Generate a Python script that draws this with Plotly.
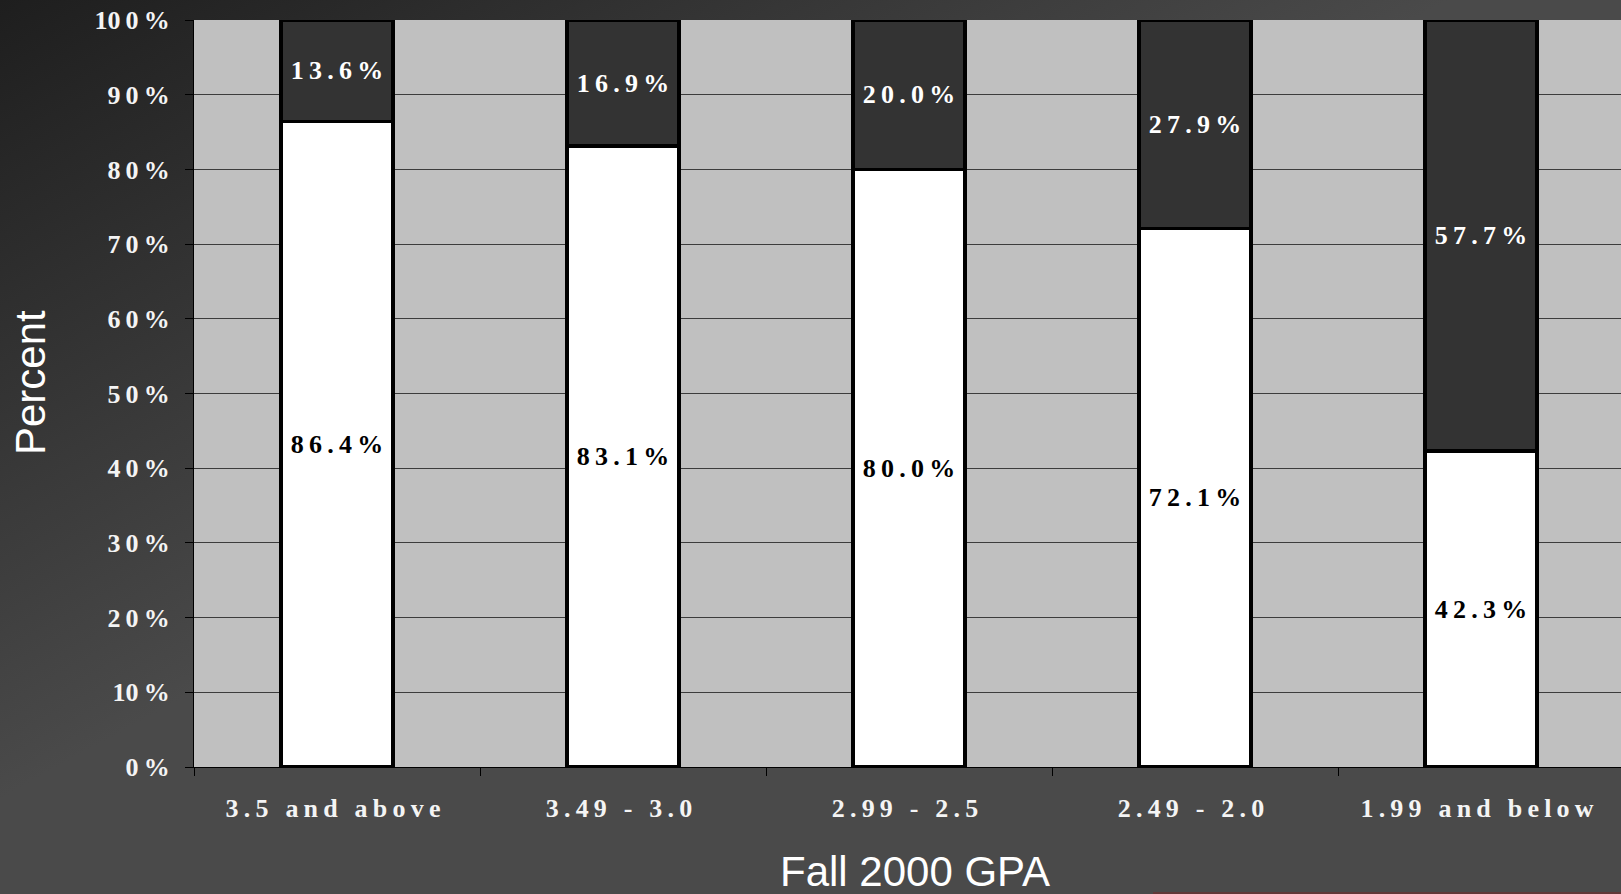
import base64
import plotly.graph_objects as go

# ---- data ----
categories = ["3.5 and above", "3.49 - 3.0", "2.99 - 2.5", "2.49 - 2.0", "1.99 and below"]
lower_values = [86.4, 83.1, 80.0, 72.1, 42.3]   # white segments
upper_values = [13.6, 16.9, 20.0, 27.9, 57.7]   # dark segments
y_tick_vals = [0, 10, 20, 30, 40, 50, 60, 70, 80, 90, 100]
y_tick_text = ["0%", "10%", "20%", "30%", "40%", "50%", "60%", "70%", "80%", "90%", "100%"]
x_title = "Fall 2000 GPA"
y_title = "Percent"

TS = "\u2009"


def spaced(s):
    return TS.join(list(s))


W, H = 1621, 894
L, R, T, B = 194, 0, 20, 127
PW = W - L - R
PH = H - T - B

serif = dict(family="Liberation Serif, Times New Roman, serif", size=26, weight="bold")

fig = go.Figure()
fig.add_trace(go.Bar(
    x=categories, y=lower_values, width=0.39,
    marker=dict(color="#ffffff", line=dict(color="#000000", width=3.5)),
    text=[spaced(f"{v:.1f}%") for v in lower_values],
    textposition="inside", insidetextanchor="middle", textangle=0,
    textfont=dict(serif, color="#000000"),
    showlegend=False, hoverinfo="skip",
))
fig.add_trace(go.Bar(
    x=categories, y=upper_values, width=0.39,
    marker=dict(color="#333333", line=dict(color="#000000", width=3.5)),
    text=[spaced(f"{v:.1f}%") for v in upper_values],
    textposition="inside", insidetextanchor="middle", textangle=0,
    textfont=dict(serif, color="#ffffff"),
    showlegend=False, hoverinfo="skip",
))

# gradient background
svg = (
    f'<svg xmlns="http://www.w3.org/2000/svg" width="{W}" height="{H}" viewBox="0 0 {W} {H}" preserveAspectRatio="none">'
    '<defs><linearGradient id="g" gradientUnits="userSpaceOnUse" x1="0" y1="0" x2="338" y2="613">'
    '<stop offset="0" stop-color="#1e1e1e"/><stop offset="1" stop-color="#4a4a4a"/>'
    '</linearGradient></defs>'
    f'<rect width="{W}" height="{H}" fill="url(#g)"/></svg>'
)
uri = "data:image/svg+xml;base64," + base64.b64encode(svg.encode()).decode()

fig.update_layout(
    width=W, height=H,
    margin=dict(l=L, r=R, t=T, b=B, pad=0),
    barmode="stack",
    paper_bgcolor="#4a4a4a",
    plot_bgcolor="#c0c0c0",
    images=[dict(source=uri, xref="paper", yref="paper",
                 x=-L / PW, y=1 + T / PH, sizex=W / PW, sizey=H / PH,
                 xanchor="left", yanchor="top", sizing="stretch", layer="below")],
    xaxis=dict(
        type="category", range=[-0.5, -0.5 + PW / 286.0],
        tickvals=categories, ticktext=[spaced(c) for c in categories],
        tickson="boundaries", ticks="outside", ticklen=8, tickcolor="#000000",
        showgrid=False, showline=True, linecolor="#000000", linewidth=1,
        tickfont=dict(serif, color="#f4f4f4"),
        ticklabelstandoff=18, ticklabelshift=-4, zeroline=False,
    ),
    yaxis=dict(
        range=[0, 100], tickvals=y_tick_vals,
        ticktext=[spaced(t).replace("1" + TS + "0" + TS, "10" + TS, 1) if t.startswith("10") else spaced(t) for t in y_tick_text],
        ticks="outside", ticklen=8, tickcolor="#000000",
        showgrid=True, gridcolor="#3c3c3c", gridwidth=1,
        showline=True, linecolor="#000000", linewidth=1,
        tickfont=dict(serif, color="#f4f4f4"),
        ticklabelstandoff=10, zeroline=False,
    ),
    annotations=[
        dict(text=y_title, xref="paper", yref="paper", x=(30 - L) / PW, y=(T + PH - 383) / PH,
             xanchor="center", yanchor="middle", textangle=-90, showarrow=False,
             font=dict(family="Liberation Sans, Arial, sans-serif", size=42, color="#ffffff")),
        dict(text=x_title, xref="paper", yref="paper", x=(915 - L) / PW, y=(T + PH - 871) / PH,
             xanchor="center", yanchor="middle", showarrow=False,
             font=dict(family="Liberation Sans, Arial, sans-serif", size=42, color="#ffffff")),
    ],
    shapes=[
        dict(type="rect", xref="paper", yref="paper", x0=0, x1=1, y0=0, y1=1,
             fillcolor="#c0c0c0", line=dict(width=0), layer="below"),
        dict(type="line", xref="paper", yref="paper",
             x0=(1153 - L) / PW, x1=1.0, y0=(T + PH - 893) / PH, y1=(T + PH - 893) / PH,
             line=dict(color="#7a2626", width=1)),
    ],
)

fig.write_html("out.html", config={"displayModeBar": False},
               post_script="document.body.style.margin='0';document.body.style.overflow='hidden';")
